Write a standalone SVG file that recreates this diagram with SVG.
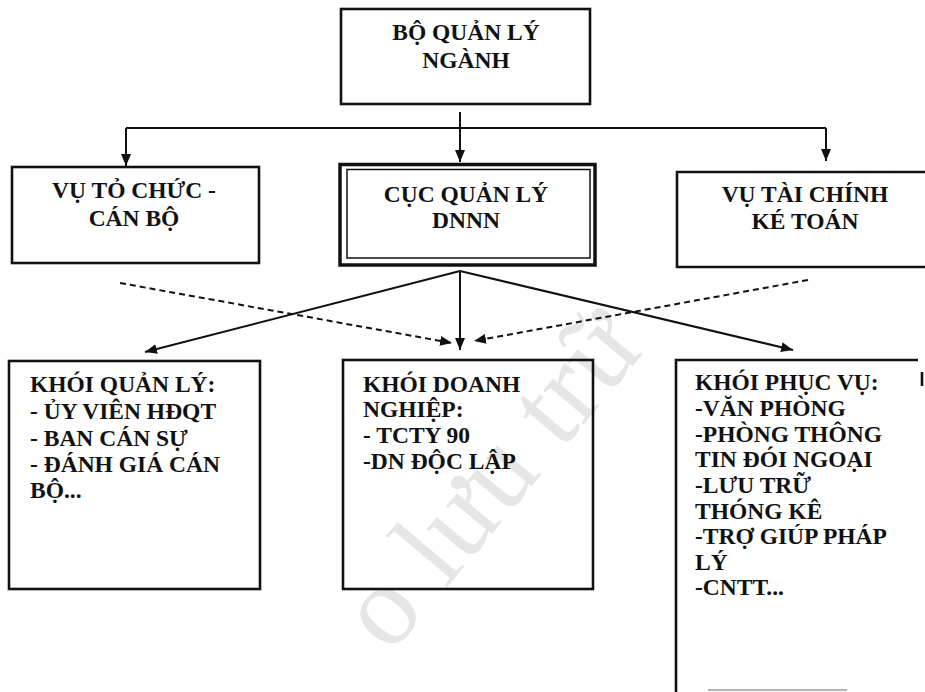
<svg xmlns="http://www.w3.org/2000/svg" width="925" height="692" viewBox="0 0 925 692">
<style>
.t{font-family:"Liberation Serif","Times New Roman",serif;font-weight:bold;font-size:23.5px;fill:#111}
.c{text-anchor:middle}
.box{fill:none;stroke:#111;stroke-width:2.6}
.ln{fill:none;stroke:#111;stroke-width:2}
.dash{fill:none;stroke:#111;stroke-width:2;stroke-dasharray:6,4}
.wm{font-family:"Liberation Serif","Times New Roman",serif;font-size:115px;fill:#e6e6e6}
</style>
<defs>
<marker id="ah" viewBox="0 0 12 10" refX="12" refY="5" markerWidth="12" markerHeight="10" markerUnits="userSpaceOnUse" orient="auto">
<path d="M0,0 L12,5 L0,10 z" fill="#111"/>
</marker>
</defs>
<rect width="925" height="692" fill="#fff"/>
<g id="watermark">
<text class="wm" transform="translate(390,655) rotate(-50)">o lưu trữ</text>
</g>
<g id="connectors">
<path class="ln" d="M460,112 V162" marker-end="url(#ah)"/>
<path class="ln" d="M126,128 H826"/>
<path class="ln" d="M126,128 V166" marker-end="url(#ah)"/>
<path class="ln" d="M826,128 V161" marker-end="url(#ah)"/>
<path class="ln" d="M460,271 L145,352" marker-end="url(#ah)"/>
<path class="ln" d="M460,271 V350" marker-end="url(#ah)"/>
<path class="ln" d="M460,271 L793,350" marker-end="url(#ah)"/>
<path class="dash" d="M120,283 L452,343" marker-end="url(#ah)"/>
<path class="dash" d="M808,280 L474,341" marker-end="url(#ah)"/>
</g>
<g id="bo-quan-ly-nganh">
<rect class="box" x="341" y="9" width="249" height="95"/>
<text class="t c" x="466" y="40">BỘ QUẢN LÝ</text>
<text class="t c" x="466" y="68">NGÀNH</text>
</g>
<g id="vu-to-chuc-can-bo">
<rect class="box" x="12" y="167" width="247" height="96"/>
<text class="t c" x="134" y="198">VỤ TỎ CHỨC -</text>
<text class="t c" x="134" y="226">CÁN BỘ</text>
</g>
<g id="cuc-quan-ly-dnnn">
<rect x="340" y="164.5" width="255" height="100.5" fill="none" stroke="#111" stroke-width="3.5"/>
<rect x="347" y="169.5" width="243" height="88.5" fill="none" stroke="#111" stroke-width="1.5"/>
<text class="t c" x="466" y="202">CỤC QUẢN LÝ</text>
<text class="t c" x="466" y="228">DNNN</text>
</g>
<g id="vu-tai-chinh-ke-toan">
<path class="box" d="M927,172 H677 V267 H927"/>
<text class="t c" x="805" y="202">VỤ TÀI CHÍNH</text>
<text class="t c" x="805" y="229">KÉ TOÁN</text>
</g>
<g id="khoi-quan-ly">
<rect class="box" x="9" y="361" width="251" height="228"/>
<text class="t" x="30" y="391.5">KHÓI QUẢN LÝ:</text>
<text class="t" x="30" y="418.5">- ỦY VIÊN HĐQT</text>
<text class="t" x="30" y="445.5">- BAN CÁN SỰ</text>
<text class="t" x="30" y="471.5">- ĐÁNH GIÁ CÁN</text>
<text class="t" x="30" y="498">BỘ...</text>
</g>
<g id="khoi-doanh-nghiep">
<rect class="box" x="343" y="360" width="250" height="229"/>
<text class="t" x="363" y="391.5">KHÓI DOANH</text>
<text class="t" x="363" y="417">NGHIỆP:</text>
<text class="t" x="363" y="443">- TCTY 90</text>
<text class="t" x="363" y="468.5">-DN ĐỘC LẬP</text>
</g>
<g id="khoi-phuc-vu">
<path class="box" d="M676,694 V360 H918"/>
<path class="box" d="M922,372 V386"/>
<text class="t" x="695" y="390">KHÓI PHỤC VỤ:</text>
<text class="t" x="695" y="415.5">-VĂN PHÒNG</text>
<text class="t" x="695" y="441.5">-PHÒNG THÔNG</text>
<text class="t" x="695" y="467">TIN ĐÓI NGOẠI</text>
<text class="t" x="695" y="493">-LƯU TRỮ</text>
<text class="t" x="695" y="518.5">THÓNG KÊ</text>
<text class="t" x="695" y="544">-TRỢ GIÚP PHÁP</text>
<text class="t" x="695" y="569.5">LÝ</text>
<text class="t" x="695" y="595">-CNTT...</text>
</g>
<path d="M708,690 H847" stroke="#999" stroke-width="1.5"/>
</svg>
